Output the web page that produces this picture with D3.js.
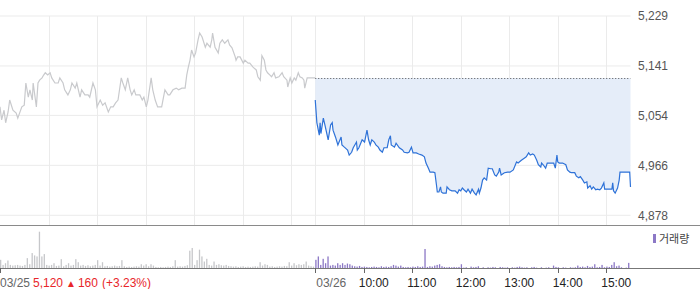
<!DOCTYPE html>
<html lang="ko">
<head>
<meta charset="utf-8">
<title>Intraday chart</title>
<script src="https://cdn.jsdelivr.net/npm/d3@7"></script>
<style>
  body { margin: 0; background: #fff; }
  svg text { font-family: "Liberation Sans", Arial, "Noto Sans CJK KR", sans-serif; }
</style>
</head>
<body>
<svg id="chart" width="700" height="289"></svg>
<script>
// ---- data ----
var prevClose = 5120;
var yTicks = [4878, 4966, 5054, 5141, 5229];
var hourLabels = ["10:00", "11:00", "12:00", "13:00", "14:00", "15:00"];
var dayLabels = ["03/25", "03/26"];
var changeText = ["5,120", "\u25B2", "160", "(+3.23%)"];

// 03/25 (previous day, grey)
var day1Time = ["09:00","09:02","09:05","09:07","09:10","09:12","09:16","09:20","09:22","09:27","09:30","09:32","09:35","09:37","09:40","09:41","09:43","09:45","09:47","09:49","09:52","09:54","09:56","09:59","10:02","10:04","10:08","10:12","10:14","10:18","10:20","10:24","10:27","10:29","10:33","10:35","10:39","10:41","10:45","10:49","10:51","10:55","10:58","11:00","11:04","11:07","11:10","11:14","11:17","11:20","11:23","11:26","11:30","11:32","11:35","11:38","11:41","11:43","11:46","11:48","11:53","11:56","11:58","12:01","12:03","12:07","12:09","12:12","12:15","12:20","12:24","12:28","12:30","12:34","12:38","12:41","12:45","12:49","12:51","12:53","12:55","12:57","13:00","13:02","13:05","13:07","13:10","13:14","13:16","13:20","13:22","13:23","13:26","13:30","13:32","13:35","13:38","13:42","13:44","13:47","13:51","13:52","13:54","13:57","14:01","14:03","14:07","14:09","14:13","14:17","14:19","14:22","14:24","14:27","14:29","14:31","14:34","14:36","14:39","14:41","14:45","14:49","14:51","14:55","14:56","14:59","15:01","15:04","15:06","15:09","15:11","15:14","15:16","15:17","15:20","15:23","15:30"];
var day1Price = [5069,5046,5063,5041,5060,5081,5063,5058,5049,5069,5072,5111,5086,5099,5081,5111,5090,5069,5111,5116,5120,5125,5129,5125,5129,5120,5111,5111,5120,5111,5099,5090,5099,5111,5102,5111,5086,5099,5090,5090,5086,5111,5099,5069,5081,5072,5076,5060,5069,5069,5076,5081,5120,5111,5099,5120,5099,5090,5099,5090,5090,5081,5086,5069,5081,5120,5099,5081,5069,5069,5099,5090,5090,5099,5102,5099,5102,5102,5125,5139,5151,5169,5157,5164,5187,5199,5192,5174,5181,5174,5187,5199,5174,5164,5181,5187,5181,5187,5178,5173,5157,5151,5157,5157,5146,5151,5146,5146,5139,5134,5122,5116,5159,5151,5134,5129,5125,5122,5129,5120,5122,5129,5122,5116,5104,5120,5111,5120,5116,5129,5122,5120,5116,5102,5120,5120,5120];

// 03/26 (today, blue)
var day2Time = ["09:00","09:02","09:05","09:06","09:07","09:10","09:12","09:16","09:19","09:21","09:22","09:25","09:28","09:32","09:33","09:36","09:40","09:42","09:45","09:47","09:51","09:52","09:54","09:58","10:01","10:04","10:06","10:08","10:10","10:13","10:15","10:18","10:20","10:23","10:25","10:29","10:31","10:33","10:34","10:38","10:40","10:44","10:48","10:50","10:54","10:56","10:59","11:01","11:05","11:08","11:12","11:15","11:17","11:20","11:22","11:26","11:28","11:30","11:31","11:33","11:35","11:36","11:38","11:42","11:43","11:46","11:49","11:53","11:56","11:58","12:00","12:02","12:04","12:07","12:09","12:12","12:14","12:17","12:19","12:22","12:23","12:25","12:27","12:29","12:32","12:34","12:37","12:39","12:42","12:44","12:47","12:48","12:50","12:54","12:58","13:01","13:05","13:09","13:11","13:15","13:19","13:21","13:24","13:26","13:29","13:31","13:34","13:36","13:39","13:40","13:42","13:45","13:47","13:51","13:55","13:57","13:59","14:00","14:02","14:06","14:10","14:12","14:15","14:17","14:21","14:23","14:26","14:28","14:31","14:33","14:36","14:37","14:40","14:42","14:44","14:47","14:49","14:52","14:54","14:57","14:58","15:01","15:04","15:07","15:08","15:09","15:11","15:13","15:14","15:16","15:17","15:22","15:27","15:29","15:30"];
var day2Price = [5081,5041,5019,5041,5022,5049,5037,5011,5037,5041,5028,5016,5002,5016,5002,4998,4993,4984,4989,4997,5007,4993,4997,5011,5007,5028,5011,5002,5011,5007,5002,4998,4993,4989,4997,4997,5011,5018,5002,4998,5005,4997,4993,4989,4988,4989,4998,4988,4988,4986,4984,4981,4970,4961,4954,4954,4953,4931,4919,4919,4928,4919,4917,4917,4928,4923,4921,4921,4917,4923,4921,4926,4923,4919,4924,4917,4924,4917,4914,4924,4917,4926,4940,4944,4940,4961,4960,4960,4949,4947,4954,4961,4949,4953,4954,4954,4958,4972,4970,4975,4979,4981,4988,4984,4986,4984,4975,4967,4963,4970,4967,4961,4970,4970,4970,4961,4984,4972,4970,4970,4967,4958,4954,4953,4953,4947,4944,4946,4940,4935,4937,4926,4930,4924,4928,4923,4924,4923,4926,4935,4924,4924,4924,4924,4935,4921,4917,4923,4926,4940,4954,4954,4954,4954,4928];

// volume, 3-minute buckets from 09:00 (relative units)
var day1Vol = [25,10,15,23,10,8,9,10,8,7,10,30,12,45,38,35,108,35,42,10,8,10,15,7,8,27,6,10,15,8,10,27,18,8,10,7,9,6,8,10,24,8,18,6,7,5,6,8,6,7,24,6,4,5,4,5,6,5,12,8,12,6,12,8,4,3,4,3,4,5,4,6,24,5,6,5,7,9,52,60,10,24,55,35,20,28,10,8,20,10,12,9,8,10,7,6,5,6,4,5,6,4,5,4,5,6,5,18,8,12,10,5,6,4,5,6,5,7,6,18,8,15,9,12,10,12,20,8,6,5];
var day2Vol = [25,35,10,28,15,35,8,10,8,15,10,15,10,14,12,8,6,5,7,4,5,4,3,4,5,4,3,6,4,5,4,6,10,8,5,8,4,3,4,3,5,4,6,4,5,57,4,6,5,8,10,12,6,4,3,4,3,4,3,4,12,2,3,0,5,3,4,6,0,3,0,3,2,4,3,0,4,3,2,3,0,3,2,4,5,3,2,3,0,3,4,2,0,3,0,2,3,0,8,4,3,0,3,2,0,3,2,3,8,4,5,3,7,4,5,12,3,4,10,3,5,4,10,18,6,8,3,0,2,16];

// ---- layout ----
var W = 700, H = 289;
var plotRight = 630.5;
var svg = d3.select("#chart");

var x = d3.scaleLinear().domain([0, 780]).range([0, plotRight]);
var y = d3.scaleLinear().domain([4878, 5229]).range([215.3, 16]);
var vy = d3.scaleLinear().domain([0, 108]).range([268.3, 231.7]);

function mins(day, t) {
    var p = t.split(":");
    return day * 390 + (+p[0] - 9) * 60 + (+p[1]);
}

// grid
svg.append("g").selectAll("line")
    .data(yTicks)
    .enter().append("line")
    .attr("x1", 0).attr("x2", plotRight)
    .attr("y1", function(d) { return y(d); })
    .attr("y2", function(d) { return y(d); })
    .attr("stroke", "#ebebeb");

var gridMins = [];
for (var d = 0; d < 2; d++) {
    for (var h = 1; h <= 6; h++) gridMins.push(d * 390 + h * 60);
}
gridMins.push(390);
svg.append("g").selectAll("line")
    .data(gridMins)
    .enter().append("line")
    .attr("x1", function(d) { return Math.round(x(d)) + 0.5; })
    .attr("x2", function(d) { return Math.round(x(d)) + 0.5; })
    .attr("y1", y(5229)).attr("y2", 225)
    .attr("stroke", "#ebebeb");

// y labels
svg.append("g").selectAll("text")
    .data(yTicks)
    .enter().append("text")
    .attr("x", 638)
    .attr("y", function(d) { return y(d) + 4.3; })
    .attr("font-size", "12px")
    .attr("fill", "#555")
    .text(function(d) { return d3.format(",")(d); });

// today's fill against previous close
var d2 = day2Time.map(function(t, i) { return { m: mins(1, t), v: day2Price[i] }; });
var d1 = day1Time.map(function(t, i) { return { m: mins(0, t), v: day1Price[i] }; });

svg.append("path")
    .datum(d2)
    .attr("fill", "#e5edf9")
    .attr("d", d3.area()
        .x(function(d) { return x(d.m); })
        .y0(y(prevClose))
        .y1(function(d) { return y(d.v); }));

svg.append("line")
    .attr("x1", x(390)).attr("x2", plotRight)
    .attr("y1", Math.round(y(prevClose)) + 0.5)
    .attr("y2", Math.round(y(prevClose)) + 0.5)
    .attr("stroke", "#555")
    .attr("stroke-dasharray", "1,2");

var line = d3.line()
    .x(function(d) { return x(d.m); })
    .y(function(d) { return y(d.v); });

svg.append("path")
    .datum(d1)
    .attr("fill", "none")
    .attr("stroke", "#c9cacd")
    .attr("stroke-width", 1.2)
    .attr("d", line);

svg.append("path")
    .datum(d2)
    .attr("fill", "none")
    .attr("stroke", "#2e72d8")
    .attr("stroke-width", 1.2)
    .attr("d", line);

// panel separators
svg.append("line")
    .attr("x1", 0).attr("x2", W)
    .attr("y1", 225.5).attr("y2", 225.5)
    .attr("stroke", "#8a8a8a");

// volume bars
svg.append("g").selectAll("rect")
    .data(day1Vol)
    .enter().append("rect")
    .attr("x", function(d, i) { return x(i * 3); })
    .attr("width", 1.3)
    .attr("y", function(d) { return vy(d); })
    .attr("height", function(d) { return vy(0) - vy(d); })
    .attr("fill", "#c6c7ca");

svg.append("g").selectAll("rect")
    .data(day2Vol)
    .enter().append("rect")
    .attr("x", function(d, i) { return x(390 + i * 3); })
    .attr("width", 1.3)
    .attr("y", function(d) { return vy(d); })
    .attr("height", function(d) { return vy(0) - vy(d); })
    .attr("fill", "#8c78c6");

svg.append("line")
    .attr("x1", 0).attr("x2", W)
    .attr("y1", 268.5).attr("y2", 268.5)
    .attr("stroke", "#777");

// x ticks
var tickMins = [0, 390];
for (var h2 = 1; h2 <= 6; h2++) tickMins.push(390 + h2 * 60);
svg.append("g").selectAll("line")
    .data(tickMins)
    .enter().append("line")
    .attr("x1", function(d) { return Math.round(x(d)) + 0.5; })
    .attr("x2", function(d) { return Math.round(x(d)) + 0.5; })
    .attr("y1", 268).attr("y2", 273)
    .attr("stroke", "#666");

// x labels
svg.append("text")
    .attr("x", 0).attr("y", 287)
    .attr("font-size", "12px").attr("fill", "#666")
    .text(dayLabels[0]);

var chg = svg.append("text")
    .attr("x", 33).attr("y", 287)
    .attr("font-size", "12px").attr("fill", "#e8262a");
chg.append("tspan").text(changeText[0]);
chg.append("tspan").attr("dx", 3).attr("font-size", "10px").text(changeText[1]);
chg.append("tspan").attr("dx", 2).text(changeText[2]);
chg.append("tspan").attr("dx", 4).text(changeText[3]);

svg.append("text")
    .attr("x", x(390) + 1).attr("y", 287)
    .attr("font-size", "12px").attr("fill", "#666")
    .text(dayLabels[1]);

svg.append("g").selectAll("text")
    .data(hourLabels)
    .enter().append("text")
    .attr("x", function(d, i) { return x(390 + (i + 1) * 60) - 5; })
    .attr("y", 287)
    .attr("font-size", "12px")
    .attr("fill", "#222")
    .text(function(d) { return d; });

// legend
svg.append("rect")
    .attr("x", 653).attr("y", 234)
    .attr("width", 3).attr("height", 9)
    .attr("fill", "#8c78c6");
svg.append("text")
    .attr("x", 659).attr("y", 242.5)
    .attr("font-size", "11px")
    .attr("fill", "#444")
    .style("font-family", "'Noto Sans CJK KR', sans-serif")
    .text("거래량");
</script>
</body>
</html>
